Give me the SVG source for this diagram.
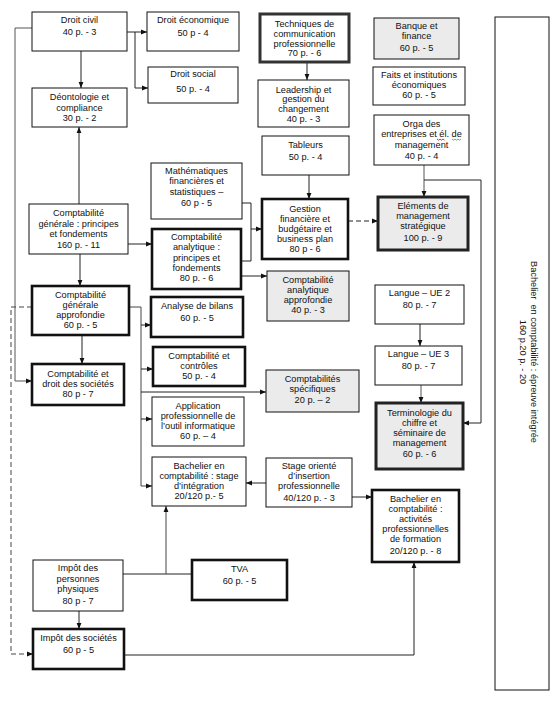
<svg xmlns="http://www.w3.org/2000/svg" width="558" height="704" viewBox="0 0 558 704">
<style>
rect{fill:#fff;stroke:#111;stroke-width:1}
rect.k{stroke-width:2.6}
rect.g{fill:#ebebeb}
text{font-family:"Liberation Sans",Arial,sans-serif;font-size:9.2px;fill:#111;text-anchor:middle}
#connectors path,#connectors line{fill:none;stroke:#222;stroke-width:1}
#connectors .d{stroke-dasharray:5,3}
.w{fill:none;stroke-width:0.8}
</style>
<defs>
<marker id="a" viewBox="0 0 10 10" refX="10" refY="5" markerWidth="6" markerHeight="6" orient="auto" markerUnits="userSpaceOnUse"><path d="M0,1 L10,5 L0,9 z" fill="#111"/></marker>
</defs>
<rect width="558" height="704" style="fill:#fff;stroke:none"/>
<g id="connectors">
<path d="M32,28 H15 V381 H32" marker-end="url(#a)" style="stroke:#555"/>
<path d="M81,51 V88" marker-end="url(#a)"/>
<path d="M127,32 H147" marker-end="url(#a)"/>
<path d="M135,32 V88 H148" marker-end="url(#a)"/>
<path d="M307,62 V80" marker-end="url(#a)"/>
<path d="M309,175 V199" marker-end="url(#a)"/>
<path d="M424,165 V197" marker-end="url(#a)" style="stroke:#555"/>
<path d="M424,180 H481 V423 H463" marker-end="url(#a)"/>
<path d="M79,204 V127" marker-end="url(#a)"/>
<path d="M80,254 V286" marker-end="url(#a)"/>
<path d="M128,244 H152" marker-end="url(#a)"/>
<path d="M242,203 H251 V261 H241"/>
<path d="M251,229 H262" marker-end="url(#a)"/>
<path d="M241,276 H267" marker-end="url(#a)"/>
<path class="d" d="M348,221 H378" marker-end="url(#a)"/>
<path d="M420,324 V346" marker-end="url(#a)"/>
<path d="M421,385 V403" marker-end="url(#a)" style="stroke:#555"/>
<path d="M82,335 V364" marker-end="url(#a)"/>
<path d="M129,307 H141 V486 H152" marker-end="url(#a)" style="stroke:#444"/>
<path d="M141,325 H151" marker-end="url(#a)"/>
<path d="M141,369 H153" marker-end="url(#a)"/>
<path d="M141,392 H266" marker-end="url(#a)"/>
<path d="M141,419 H152" marker-end="url(#a)"/>
<path class="d" d="M32,307 H11 V654 H33" marker-end="url(#a)" style="stroke:#444"/>
<path d="M266,483 H246" marker-end="url(#a)"/>
<path d="M352,497 H372" marker-end="url(#a)"/>
<path d="M123,574 H192"/>
<path d="M166,574 V506" marker-end="url(#a)" style="stroke:#444"/>
<path d="M79,611 V629" marker-end="url(#a)"/>
<path d="M124,655 H414 V562" marker-end="url(#a)"/>
</g>
<g id="droit-civil"><rect x="32" y="12" width="95" height="39"/><text x="79.5"><tspan x="79.5" y="23">Droit civil</tspan><tspan x="79.5" y="35">40 p. - 3</tspan></text></g>
<g id="droit-economique"><rect x="147" y="12" width="92" height="39"/><text><tspan x="193" y="22.5">Droit économique</tspan><tspan x="193" y="36">50 p - 4</tspan></text></g>
<g id="droit-social"><rect x="148" y="67" width="90" height="36"/><text><tspan x="193" y="77">Droit social</tspan><tspan x="193" y="92">50 p. - 4</tspan></text></g>
<g id="deontologie"><rect x="32" y="88" width="95" height="39"/><text><tspan x="79.5" y="100">Déontologie et</tspan><tspan x="79.5" y="110.5">compliance</tspan><tspan x="79.5" y="120.5">30 p. - 2</tspan></text></g>
<g id="techniques"><rect class="k" x="260" y="14" width="89" height="48" style="stroke:#333;stroke-width:3"/><text><tspan x="304.5" y="26.5">Techniques de</tspan><tspan x="304.5" y="36.5">communication</tspan><tspan x="304.5" y="46.5">professionnelle</tspan><tspan x="304.5" y="56">70 p. - 6</tspan></text></g>
<g id="leadership"><rect x="258" y="80" width="91" height="47"/><text><tspan x="303.5" y="92.5">Leadership et</tspan><tspan x="303.5" y="102">gestion du</tspan><tspan x="303.5" y="112">changement</tspan><tspan x="303.5" y="122">40 p. - 3</tspan></text></g>
<g id="tableurs"><rect x="262" y="136" width="87" height="39"/><text><tspan x="305.5" y="148">Tableurs</tspan><tspan x="305.5" y="160">50 p. - 4</tspan></text></g>
<g id="banque"><rect class="g" x="374" y="18" width="85" height="41"/><text><tspan x="416.5" y="29">Banque et</tspan><tspan x="416.5" y="39">finance</tspan><tspan x="416.5" y="51">60 p. - 5</tspan></text></g>
<g id="faits"><rect x="373" y="67" width="92" height="38"/><text><tspan x="419" y="78">Faits et institutions</tspan><tspan x="419" y="88">économiques</tspan><tspan x="419" y="98">60 p. - 5</tspan></text></g>
<g id="orga"><rect x="374" y="115" width="95" height="50"/><text><tspan x="421.5" y="126.5">Orga des</tspan><tspan x="421.5" y="136.5">entreprises et él. de</tspan><tspan x="421.5" y="147.5">management</tspan><tspan x="421.5" y="159">40 p. - 4</tspan></text>
<path class="w" stroke="#d00" d="M437,139 l1.5,1.2 l1.5,-1.2 l1.5,1.2 l1.5,-1.2 l1.5,1.2"/><path class="w" stroke="#3a3" d="M452,139 l1.5,1.2 l1.5,-1.2 l1.5,1.2 l1.5,-1.2 l1.5,1.2 l1.5,-1.2"/></g>
<g id="mathematiques"><rect x="151" y="163" width="91" height="56"/><text><tspan x="196.5" y="174">Mathématiques</tspan><tspan x="196.5" y="184">financières et</tspan><tspan x="196.5" y="195">statistiques –</tspan><tspan x="196.5" y="206">60 p - 5</tspan></text></g>
<g id="gestion"><rect class="k" x="262" y="199" width="86" height="60"/><text><tspan x="305" y="212">Gestion</tspan><tspan x="305" y="222">financière et</tspan><tspan x="305" y="232">budgétaire et</tspan><tspan x="305" y="242">business plan</tspan><tspan x="305" y="252">80 p - 6</tspan></text></g>
<g id="elements"><rect class="k g" x="378" y="197" width="90" height="53" style="stroke:#222;stroke-width:3"/><text><tspan x="423" y="209">Eléments de</tspan><tspan x="423" y="219">management</tspan><tspan x="423" y="229">stratégique</tspan><tspan x="423" y="240.5">100 p. - 9</tspan></text></g>
<g id="cg-principes"><rect x="29" y="204" width="99" height="50"/><text><tspan x="78.5" y="216">Comptabilité</tspan><tspan x="78.5" y="226.5">générale : principes</tspan><tspan x="78.5" y="236.5">et fondements</tspan><tspan x="78.5" y="247.5">160 p. - 11</tspan></text></g>
<g id="ca-principes"><rect class="k" x="152" y="229" width="89" height="60"/><text><tspan x="196.5" y="240">Comptabilité</tspan><tspan x="196.5" y="250">analytique :</tspan><tspan x="196.5" y="260.5">principes et</tspan><tspan x="196.5" y="271">fondements</tspan><tspan x="196.5" y="281">80 p. - 6</tspan></text></g>
<g id="ca-approfondie"><rect class="g" x="267" y="271" width="82" height="50"/><text><tspan x="308" y="283">Comptabilité</tspan><tspan x="308" y="293">analytique</tspan><tspan x="308" y="303">approfondie</tspan><tspan x="308" y="312.5">40 p. - 3</tspan></text></g>
<g id="langue-ue2"><rect x="375" y="285" width="89" height="39"/><text><tspan x="419.5" y="295.5">Langue – UE 2</tspan><tspan x="419.5" y="307.5">80 p. - 7</tspan></text></g>
<g id="langue-ue3"><rect x="375" y="346" width="87" height="39"/><text><tspan x="418.5" y="357">Langue – UE 3</tspan><tspan x="418.5" y="369">80 p. - 7</tspan></text></g>
<g id="cg-approfondie"><rect class="k" x="32" y="286" width="97" height="49"/><text><tspan x="80.5" y="298">Comptabilité</tspan><tspan x="80.5" y="308">générale</tspan><tspan x="80.5" y="318">approfondie</tspan><tspan x="80.5" y="328">60 p. - 5</tspan></text></g>
<g id="analyse-bilans"><rect class="k" x="151" y="297" width="92" height="40"/><text><tspan x="197" y="309">Analyse de bilans</tspan><tspan x="197" y="320.5">60 p. - 5</tspan></text></g>
<g id="compta-controles"><rect class="k" x="153" y="347" width="92" height="39"/><text><tspan x="199" y="359">Comptabilité et</tspan><tspan x="199" y="369">contrôles</tspan><tspan x="199" y="379">50 p. - 4</tspan></text></g>
<g id="compta-specifiques"><rect class="g" x="266" y="370" width="93" height="42"/><text><tspan x="312.5" y="382">Comptabilités</tspan><tspan x="312.5" y="392">spécifiques</tspan><tspan x="312.5" y="403">20 p. – 2</tspan></text></g>
<g id="compta-droit-societes"><rect class="k" x="32" y="364" width="92" height="41"/><text><tspan x="78" y="376.5">Comptabilité et</tspan><tspan x="78" y="386.5">droit des sociétés</tspan><tspan x="78" y="397">80 p - 7</tspan></text></g>
<g id="terminologie"><rect class="k g" x="376" y="403" width="87" height="66" style="stroke:#222;stroke-width:3"/><text><tspan x="419.5" y="415.5">Terminologie du</tspan><tspan x="419.5" y="425.5">chiffre et</tspan><tspan x="419.5" y="435.5">séminaire de</tspan><tspan x="419.5" y="445.5">management</tspan><tspan x="419.5" y="456.5">60 p. - 6</tspan></text></g>
<g id="application"><rect x="152" y="397" width="92" height="49"/><text><tspan x="198" y="409">Application</tspan><tspan x="198" y="419">professionnelle de</tspan><tspan x="198" y="429">l’outil informatique</tspan><tspan x="198" y="439">60 p. – 4</tspan></text></g>
<g id="bachelier-stage"><rect x="152" y="457" width="94" height="49"/><text><tspan x="199" y="469">Bachelier en</tspan><tspan x="199" y="479">comptabilité : stage</tspan><tspan x="199" y="489">d’intégration</tspan><tspan x="199" y="499">20/120 p.- 5</tspan></text></g>
<g id="stage-oriente"><rect x="266" y="458" width="86" height="49"/><text><tspan x="309" y="469">Stage orienté</tspan><tspan x="309" y="479">d’insertion</tspan><tspan x="309" y="489">professionnelle</tspan><tspan x="309" y="500.5">40/120 p. - 3</tspan></text></g>
<g id="bachelier-activites"><rect class="k" x="372" y="490" width="87" height="72"/><text><tspan x="415.5" y="502">Bachelier en</tspan><tspan x="415.5" y="512">comptabilité :</tspan><tspan x="415.5" y="522">activités</tspan><tspan x="415.5" y="532">professionnelles</tspan><tspan x="415.5" y="542">de formation</tspan><tspan x="415.5" y="554">20/120 p. - 8</tspan></text></g>
<g id="impot-personnes"><rect x="33" y="560" width="90" height="51"/><text><tspan x="78" y="570.5">Impôt des</tspan><tspan x="78" y="582">personnes</tspan><tspan x="78" y="592">physiques</tspan><tspan x="78" y="604">80 p - 7</tspan></text></g>
<g id="tva"><rect class="k" x="192" y="560" width="95" height="40"/><text><tspan x="239.5" y="572">TVA</tspan><tspan x="239.5" y="584">60 p. - 5</tspan></text></g>
<g id="impot-societes"><rect class="k" x="33" y="629" width="91" height="40"/><text><tspan x="78.5" y="641">Impôt des sociétés</tspan><tspan x="78.5" y="652.5">60 p - 5</tspan></text></g>
<g id="epreuve-integree"><rect x="495" y="17" width="54" height="673"/><text transform="translate(531,352) rotate(90)" xml:space="preserve"><tspan x="0" y="0">Bachelier  en comptabilité : épreuve intégrée</tspan><tspan x="0" y="11.5">160 p.20 p. - 20</tspan></text></g>
</svg>
